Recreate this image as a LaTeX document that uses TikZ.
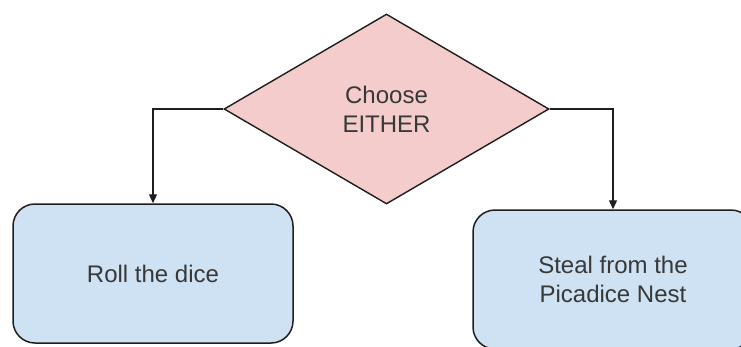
\documentclass[tikz,border=0pt]{standalone}
\usepackage{fontspec}
\setmainfont{Liberation Sans}
\usetikzlibrary{shapes.geometric,arrows.meta}
\definecolor{pinkfill}{HTML}{F4CCCC}
\definecolor{bluefill}{HTML}{CFE2F3}
\definecolor{edge}{HTML}{1E1E1E}
\definecolor{txt}{HTML}{383838}
\tikzset{
  decision/.style={diamond, draw=edge, fill=pinkfill, line width=1.4pt, inner sep=0pt,
    aspect=1.71, minimum width=325pt, minimum height=190pt, align=center,
    text=txt, font=\fontsize{24}{29}\selectfont},
  actionbox/.style={rectangle, rounded corners=22pt, draw=edge, fill=bluefill, line width=1.5pt,
    minimum width=280pt, minimum height=139pt, align=center, inner sep=0pt,
    text=txt, font=\fontsize{24}{29}\selectfont},
  conn/.style={draw=edge, line width=1.3pt, -{Triangle[width=8pt,length=9pt]}}
}
\begin{document}
\begin{tikzpicture}[x=1pt,y=-1pt]
\useasboundingbox (0,0) rectangle (741,346);
\clip (0,0) rectangle (741,346);
\node[decision] (dia) at (386.5,109) {Choose\\EITHER};
\node[actionbox] (left) at (153,273.5) {Roll the dice};
\node[actionbox] (right) at (613,279.5) {Steal from the\\Picadice Nest};
\draw[conn] (dia.west) -| (left.north);
\draw[conn] (dia.east) -| (right.north);
\end{tikzpicture}
\end{document}
